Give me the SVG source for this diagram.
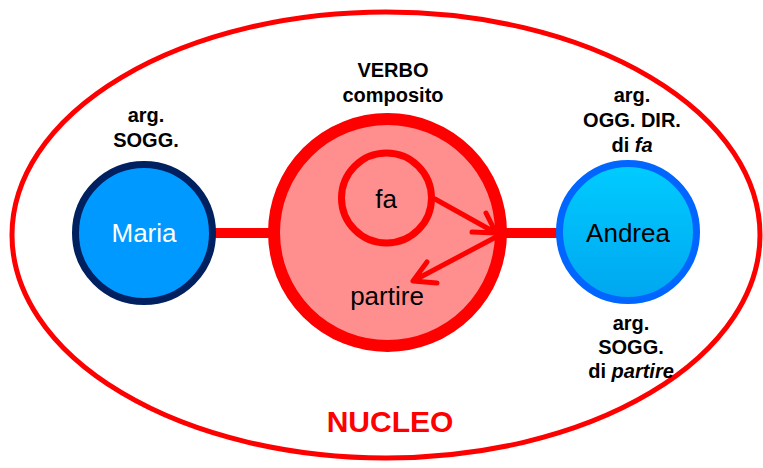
<svg xmlns="http://www.w3.org/2000/svg" width="763" height="468" viewBox="0 0 763 468">
<defs>
<linearGradient id="gA" x1="0" y1="0" x2="0" y2="1">
<stop offset="0" stop-color="#00CCFF"/>
<stop offset="1" stop-color="#00A6F0"/>
</linearGradient>
<style>
text{font-family:"Liberation Sans",Arial,sans-serif;text-anchor:middle}
.lbl{font-size:20px;font-weight:bold;fill:#000}
.name{font-size:26px}
.red{stroke:#FF0000;fill:none;stroke-linecap:round;stroke-linejoin:round}
</style>
</defs>
<rect width="763" height="468" fill="#fff"/>
<g id="nucleo">
<ellipse cx="386" cy="235" rx="374" ry="223" fill="none" stroke="#FF0000" stroke-width="5"/>
<text x="390" y="432" style="font-size:30px;font-weight:bold;fill:#FF0000">NUCLEO</text>
</g>
<g id="connectors">
<line x1="214" y1="233" x2="270" y2="233" stroke="#FF0000" stroke-width="10"/>
<line x1="505" y1="233" x2="559" y2="233" stroke="#FF0000" stroke-width="10"/>
</g>
<g id="verbo">
<circle cx="387.5" cy="232.5" r="113.5" fill="#FF8F8F" stroke="#FF0000" stroke-width="12"/>
<text class="lbl" x="393" y="77">VERBO</text>
<text class="lbl" x="393" y="102">composito</text>
</g>
<g id="fa">
<circle cx="386.5" cy="198" r="45" fill="none" stroke="#FF0000" stroke-width="7"/>
<text class="name" x="386" y="208">fa</text>
</g>
<g id="partire">
<text class="name" x="387" y="305">partire</text>
</g>
<g id="arrows">
<path class="red" stroke-width="5" d="M435 199 L496 233 M486 213 L496 233 L472 232"/>
<path class="red" stroke-width="5" d="M496 237 L413 281 M427 262 L413 281 L437 283"/>
</g>
<g id="maria">
<circle cx="144" cy="233" r="68.5" fill="#0099FF" stroke="#002060" stroke-width="7"/>
<text class="name" x="144" y="242" fill="#fff">Maria</text>
<text class="lbl" x="146" y="122">arg.</text>
<text class="lbl" x="146" y="147">SOGG.</text>
</g>
<g id="andrea">
<circle cx="628" cy="232" r="68.5" fill="url(#gA)" stroke="#0066FF" stroke-width="7"/>
<text class="name" x="628" y="242" fill="#000">Andrea</text>
<text class="lbl" x="632" y="102">arg.</text>
<text class="lbl" x="632" y="127">OGG. DIR.</text>
<text class="lbl" x="632" y="152">di <tspan font-style="italic">fa</tspan></text>
<text class="lbl" x="631" y="330">arg.</text>
<text class="lbl" x="631" y="354">SOGG.</text>
<text class="lbl" x="631" y="378">di <tspan font-style="italic">partire</tspan></text>
</g>
</svg>
